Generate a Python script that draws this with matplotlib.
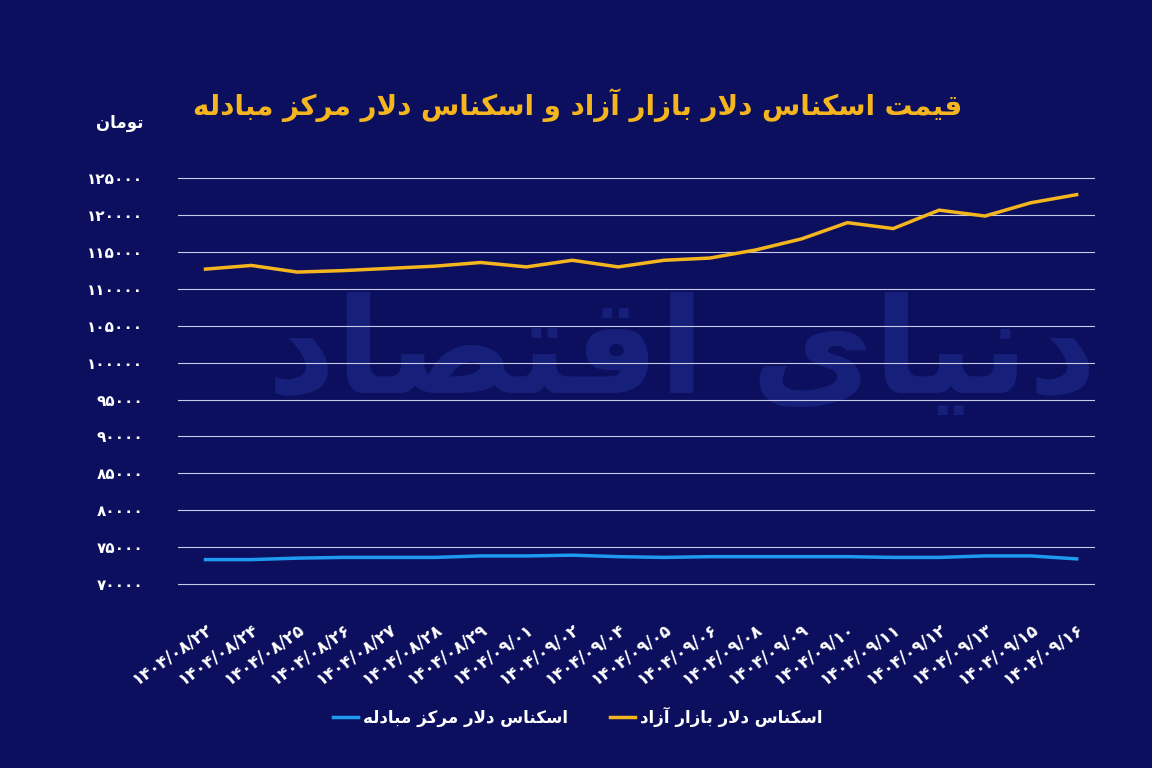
import matplotlib
matplotlib.use("Agg")
import matplotlib.pyplot as plt

dates = ["1404/08/22","1404/08/24","1404/08/25","1404/08/26","1404/08/27","1404/08/28","1404/08/29",
         "1404/09/01","1404/09/02","1404/09/04","1404/09/05","1404/09/06","1404/09/08","1404/09/09",
         "1404/09/10","1404/09/11","1404/09/12","1404/09/13","1404/09/15","1404/09/16"]
free_market = [112700,113200,112300,112500,112800,113100,113600,113000,113900,113000,
               113900,114200,115300,116800,119000,118200,120700,119900,121700,122800]
exchange_center = [73300,73300,73500,73600,73600,73600,73800,73800,73900,73700,
                   73600,73700,73700,73700,73700,73600,73600,73800,73800,73400]
yticks = list(range(70000, 125001, 5000))

TRANS = str.maketrans("0123456789", "۰۱۲۳۴۵۶۷۸۹")
def fa_num(s):
    return str(s).translate(TRANS)

FORMS = {  # iso, fin, ini, med
    'ا': ('\uFE8D','\uFE8E',None,None), 'آ': ('\uFE81','\uFE82',None,None),
    'د': ('\uFEA9','\uFEAA',None,None), 'ر': ('\uFEAD','\uFEAE',None,None),
    'ز': ('\uFEAF','\uFEB0',None,None), 'و': ('\uFEED','\uFEEE',None,None),
    'ب': ('\uFE8F','\uFE90','\uFE91','\uFE92'), 'ت': ('\uFE95','\uFE96','\uFE97','\uFE98'),
    'س': ('\uFEB1','\uFEB2','\uFEB3','\uFEB4'), 'ص': ('\uFEB9','\uFEBA','\uFEBB','\uFEBC'),
    'ع': ('\uFEC9','\uFECA','\uFECB','\uFECC'), 'ق': ('\uFED5','\uFED6','\uFED7','\uFED8'),
    'ک': ('\uFB8E','\uFB8F','\uFB90','\uFB91'), 'ل': ('\uFEDD','\uFEDE','\uFEDF','\uFEE0'),
    'م': ('\uFEE1','\uFEE2','\uFEE3','\uFEE4'), 'ن': ('\uFEE5','\uFEE6','\uFEE7','\uFEE8'),
    'ه': ('\uFEE9','\uFEEA','\uFEEB','\uFEEC'), 'ی': ('\uFBFC','\uFBFD','\uFBFE','\uFBFF'),
}
def dual(c):
    return c in FORMS and FORMS[c][2] is not None

def shape(text):
    out = []
    chars = list(text)
    i = 0
    n = len(chars)
    while i < n:
        c = chars[i]
        if c not in FORMS:
            out.append(c); i += 1; continue
        prev = chars[i-1] if i > 0 else ''
        joins_prev = dual(prev)
        if c == 'ل' and i + 1 < n and chars[i+1] in 'اآ':
            out.append('\uFEFC' if joins_prev else '\uFEFB')
            i += 2; continue
        nxt = chars[i+1] if i + 1 < n else ''
        joins_next = dual(c) and nxt in FORMS
        iso, fin, ini, med = FORMS[c]
        if joins_prev and joins_next: f = med
        elif joins_prev: f = fin
        elif joins_next: f = ini
        else: f = iso
        out.append(f); i += 1
    return ''.join(out)[::-1]

BG = "#0b0f5e"
ORANGE = "#f5b51e"
BLUE = "#1e9bf0"
FONT = ["DejaVu Sans"]

fig = plt.figure(figsize=(11.52, 7.68), dpi=100, facecolor=BG)
ax = fig.add_axes([178/1152, 1-595/768, (1095-178)/1152, (595-160)/768])
ax.set_facecolor(BG)
x = list(range(len(dates)))

ax.text(0.55, 0.55, shape("دنیای اقتصاد"), transform=ax.transAxes, fontsize=96, color="#16207a",
        ha="center", va="center", family=FONT, fontweight="bold", zorder=0)

ax.plot(x, free_market, color=ORANGE, lw=2.5, label=shape("اسکناس دلار بازار آزاد"), zorder=3)
ax.plot(x, exchange_center, color=BLUE, lw=2.5, label=shape("اسکناس دلار مرکز مبادله"), zorder=3)

ax.set_xlim(-0.6, len(dates) - 0.6)
ax.set_ylim(68500, 127500)
ax.set_yticks(yticks)
ax.set_yticklabels([fa_num(v) for v in yticks], color="white", fontsize=11, fontweight="bold", family=FONT)
ax.grid(axis="y", color="#c8cce8", lw=0.8)
ax.set_axisbelow(True)
ax.set_xticks(x)
ax.set_xticklabels([fa_num(d) for d in dates], rotation=35, ha="right", rotation_mode="anchor",
                   color="white", fontsize=12, fontweight="bold", family=FONT)
ax.tick_params(axis="y", length=0, pad=25)
ax.tick_params(axis="x", length=0, pad=18)
for s in ax.spines.values():
    s.set_visible(False)

fig.text(578/1152, 1-105/768, shape("قیمت اسکناس دلار بازار آزاد و اسکناس دلار مرکز مبادله"),
         color=ORANGE, fontsize=20, fontweight="bold", ha="center", va="center", family=FONT)
fig.text(120/1152, 1-123/768, shape("تومان"), color="white", fontsize=12, fontweight="bold",
         ha="center", va="center", family=FONT)

leg = fig.legend(handles=[ax.lines[1], ax.lines[0]], labels=[ax.lines[1].get_label(), ax.lines[0].get_label()],
                 loc="center", bbox_to_anchor=(578/1152, 1-717/768), ncol=2, frameon=False,
                 prop={"family": FONT, "weight": "bold", "size": 12}, handlelength=1.5,
                 handletextpad=0.3, columnspacing=2.5, markerfirst=True)
for t in leg.get_texts():
    t.set_color("white")

fig.savefig("out.png", dpi=100, facecolor=BG)
